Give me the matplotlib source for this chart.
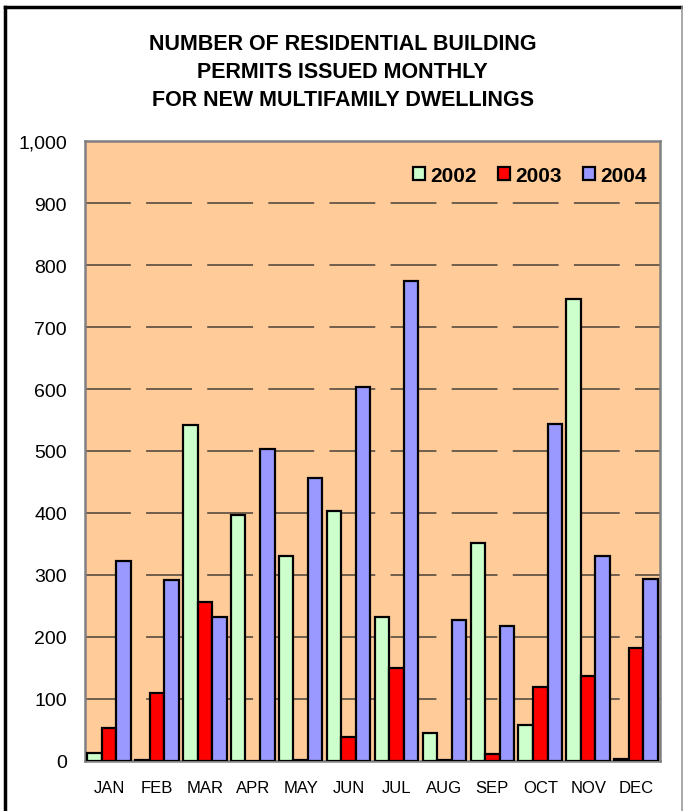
"""Monthly multifamily building permits, 2002-2004 (grouped bars)."""

import matplotlib.pyplot as plt
import numpy as np
from matplotlib.lines import Line2D

plt.rcParams["font.family"] = ["Liberation Sans", "DejaVu Sans"]

months = ["JAN", "FEB", "MAR", "APR", "MAY", "JUN",
          "JUL", "AUG", "SEP", "OCT", "NOV", "DEC"]
years = ["2002", "2003", "2004"]
permits_2002 = [13, 2, 542, 396, 331, 403, 233, 45, 352, 58, 745, 4]
permits_2003 = [54, 110, 257, 0, 1, 39, 150, 1, 12, 119, 137, 182]
permits_2004 = [322, 292, 232, 503, 457, 604, 775, 227, 218, 543, 330, 293]
y_ticks = list(range(0, 1001, 100))
title_lines = ["NUMBER OF RESIDENTIAL BUILDING",
               "PERMITS ISSUED MONTHLY",
               "FOR NEW MULTIFAMILY DWELLINGS"]

colors = ["#CCFFCC", "#FF0000", "#9999FF"]

fig = plt.figure(figsize=(6.83, 8.12), dpi=100)
ax = fig.add_axes([0.1245, 0.0616, 0.8419, 0.7635])
ax.set_facecolor("#FFCC99")

x = np.arange(len(months))
width = 0.303
for i, (vals, year) in enumerate(zip([permits_2002, permits_2003, permits_2004], years)):
    ax.bar(x + (i - 1) * width, vals, width, color=colors[i], edgecolor="black",
           linewidth=1.6, label=year, zorder=3)

ax.set_xlim(-0.5, len(months) - 0.5)
ax.set_ylim(0, 1000)
ax.set_yticks(y_ticks)
ax.set_yticklabels([f"{v:,}" for v in y_ticks])
ax.set_xticks(x)
ax.set_xticklabels(months)
ax.tick_params(axis="y", length=0, pad=13, labelsize=14)
ax.tick_params(axis="x", length=0, pad=14, labelsize=12)

for v in y_ticks[1:-1]:
    ax.axhline(v, color="#4a4038", linewidth=1.1, dashes=(30, 10), zorder=1)

for s in ax.spines.values():
    s.set_color("#808080")
    s.set_linewidth(1.8)

leg = ax.legend(loc="upper right", ncol=3, frameon=False, bbox_to_anchor=(1.01, 0.99),
                handlelength=0.6, handleheight=0.6, handletextpad=0.25, columnspacing=1.0,
                prop={"weight": "bold", "size": 15})

for y, line in zip([0.9446, 0.9113, 0.8768], title_lines):
    fig.text(0.502, y, line, ha="center", va="center", fontsize=15.5, fontweight="bold")

# chart border (left/top black, right light gray)
fig.add_artist(Line2D([0.008, 0.008], [0.0, 0.990], color="black", linewidth=2.5))
fig.add_artist(Line2D([0.007, 0.9985], [0.990, 0.990], color="black", linewidth=2.5))
fig.add_artist(Line2D([0.9985, 0.9985], [0.0, 0.990], color="#999999", linewidth=1.2))

fig.savefig("out.png", dpi=100)
